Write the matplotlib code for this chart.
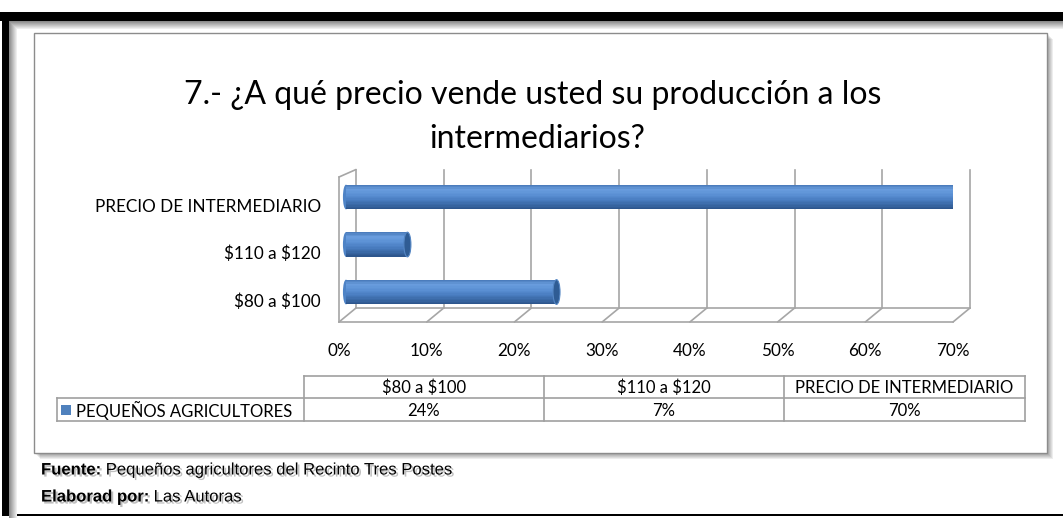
import matplotlib
matplotlib.use("Agg")
import matplotlib.pyplot as plt
import matplotlib.patheffects as pe
from matplotlib.patches import Rectangle, Ellipse, ConnectionPatch
from matplotlib.transforms import ScaledTranslation, blended_transform_factory
from matplotlib.colors import LinearSegmentedColormap
import numpy as np

plt.rcParams['text.parse_math'] = False

# data
categories = ["$80 a $100", "$110 a $120", "PRECIO DE INTERMEDIARIO"]
values = [24, 7, 70]
value_labels = ["24%", "7%", "70%"]
series_name = "PEQUEÑOS AGRICULTORES"
x_ticks = [0, 10, 20, 30, 40, 50, 60, 70]
title = "7.- ¿A qué precio vende usted su producción a los\nintermediarios?"
source = "Pequeños agricultores del Recinto Tres Postes"
author = "Las Autoras"

W, H = 1063, 518
fig = plt.figure(figsize=(W / 100, H / 100), dpi=100)
fig.patch.set_facecolor('white')

calibri = ['Lato', 'DejaVu Sans']
arial = ['Liberation Sans', 'DejaVu Sans']
blue = '#4f81bd'
grid_c = '#a6a6a6'

# background layer in pixel units (frame, box, title, table)
bg = fig.add_axes([0, 0, 1, 1], zorder=0)
bg.set_xlim(0, W)
bg.set_ylim(H, 0)
bg.axis('off')

# page frame
bg.add_patch(Rectangle((0, 12), W, 9, color='black', lw=0))
bg.add_patch(Rectangle((2, 12), 7, 504, color='black', lw=0))
bg.add_patch(Rectangle((2, 514), W, 2, color='black', lw=0))
for i in range(8):
    g = 0.55 + i * 0.055
    bg.add_patch(Rectangle((9 + i, 21 + i), 1, 500, color=str(g), lw=0))
    bg.add_patch(Rectangle((9 + i, 21 + i), W, 1, color=str(g), lw=0))

# chart box with soft shadow
for i in range(6, 0, -1):
    bg.add_patch(Rectangle((34 + i, 33 + i), 1013, 420, color='black', alpha=0.07, lw=0))
bg.add_patch(Rectangle((34, 33), 1013, 420, facecolor='white', edgecolor='#8c8c8c', lw=1))

bg.text(533, 95, title.split("\n")[0], ha='center', va='center', fontsize=23, family=calibri, color='black')
bg.text(537, 139, title.split("\n")[1], ha='center', va='center', fontsize=23, family=calibri, color='black')

# table below the chart
col_edges = [57, 304, 544, 784, 1025]
row_top, row_mid, row_bot = 376, 398, 421
tc = '#a0a0a0'
bg.plot([col_edges[1], col_edges[-1]], [row_top, row_top], color=tc, lw=1.2)
bg.plot([col_edges[0], col_edges[-1]], [row_mid, row_mid], color=tc, lw=1.2)
bg.plot([col_edges[0], col_edges[-1]], [row_bot, row_bot], color=tc, lw=1.2)
bg.plot([col_edges[0], col_edges[0]], [row_mid, row_bot], color=tc, lw=1.2)
for xe in col_edges[1:]:
    bg.plot([xe, xe], [row_top, row_bot], color=tc, lw=1.2)
for i, cat in enumerate(categories):
    xc = (col_edges[i + 1] + col_edges[i + 2]) / 2
    bg.text(xc, (row_top + row_mid) / 2 + 1, cat, ha='center', va='center', fontsize=12, family=calibri)
    bg.text(xc, (row_mid + row_bot) / 2 + 1, value_labels[i], ha='center', va='center', fontsize=12, family=calibri)
bg.add_patch(Rectangle((61, (row_mid + row_bot) / 2 - 5), 10, 10, color=blue, lw=0))
bg.text(76, (row_mid + row_bot) / 2 + 1, series_name, ha='left', va='center', fontsize=12, family=calibri)

# source notes
shadow = [pe.withSimplePatchShadow(offset=(1.5, -1.5), shadow_rgbFace='#808080', alpha=0.5)]
r = fig.canvas.get_renderer()
for yy, head, rest in [(470, "Fuente:", " " + source), (497, "Elaborad por:", " " + author)]:
    t = bg.text(41, yy, head, ha='left', va='center', fontsize=12, family=arial,
                fontweight='bold', path_effects=shadow)
    bb = t.get_window_extent(r)
    x_end = bg.transData.inverted().transform((bb.x1, bb.y0))[0]
    bg.text(x_end, yy, rest, ha='left', va='center', fontsize=12, family=arial, path_effects=shadow)

# main 3-D looking bar chart (front plane of the floor)
ax = fig.add_axes([339 / W, 1 - 322 / H, 614 / W, 145 / H], zorder=1)
ax.patch.set_visible(False)
for s in ax.spines.values():
    s.set_visible(False)

dpi_tr = fig.dpi_scale_trans
front = blended_transform_factory(ax.transData, ax.transAxes)
back = front + ScaledTranslation(17 / 100, 14 / 100, dpi_tr)

for t in x_ticks:
    ax.plot([t, t], [0, 0.955], transform=back, color=grid_c, lw=1.2, clip_on=False)
    ax.add_artist(ConnectionPatch((t, 0), (t, 0), coordsA=front, coordsB=back,
                                  color=grid_c, lw=1.2, clip_on=False))
ax.plot([0, 70], [0, 0], transform=front, color=grid_c, lw=1.2, clip_on=False)
ax.plot([0, 70], [0, 0], transform=back, color=grid_c, lw=1.2, clip_on=False)
ax.plot([0, 0], [0, 1], transform=front, color=grid_c, lw=1.2, clip_on=False)
ax.add_artist(ConnectionPatch((0, 1), (0, 0.955), coordsA=front, coordsB=back,
                              color=grid_c, lw=1.2, clip_on=False))

# cylinders
bar_tr = ax.transData + ScaledTranslation(7 / 100, 8 / 100, dpi_tr)
bar_h = 0.52
cyl = LinearSegmentedColormap.from_list('cyl', ['#4677b6', '#6a9edf', '#5b90d4', '#4b7fc3', '#3b6aa7', '#2b5389'])
ypos = np.arange(len(categories))
n = 18
for i in range(n):
    off = bar_h / 2 - (i + 0.5) * bar_h / n
    ax.barh(ypos + off, values, height=bar_h / n * 1.1, left=0, color=cyl((i + 0.5) / n),
            transform=bar_tr, lw=0, zorder=2)
for y, v in zip(ypos, values):
    ax.add_patch(Ellipse((0, y), 0.7, bar_h, transform=bar_tr, color='#4e83c6', lw=0, zorder=1.5))
    ax.add_patch(Ellipse((v, y), 0.8, bar_h, transform=bar_tr, facecolor='#2f5c94',
                         edgecolor='#5486c4', lw=0.8, zorder=3))

ax.set_xlim(0, 70)
ax.set_ylim(-0.463, 2.59)
ax.set_yticks(ypos, categories, fontsize=12.3, family=calibri)
ax.set_xticks(x_ticks, [f"{t}%" for t in x_ticks], fontsize=12.3, family=calibri)
ax.tick_params(axis='y', length=0, pad=13)
ax.tick_params(axis='x', length=0, pad=15)

fig.savefig("out.png", dpi=100)
